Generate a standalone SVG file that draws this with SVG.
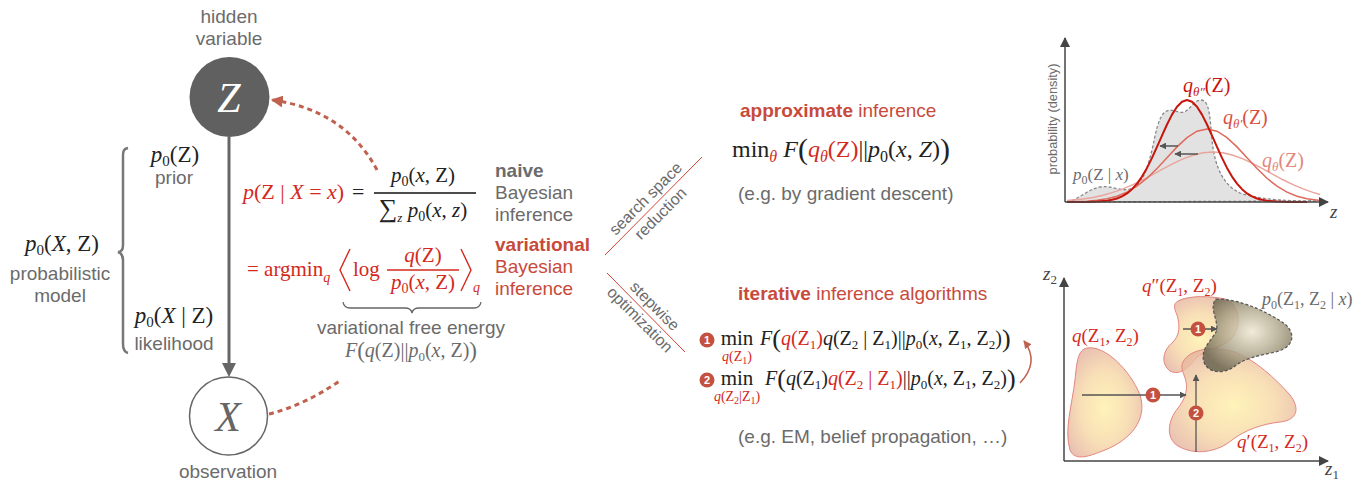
<svg xmlns="http://www.w3.org/2000/svg" width="1362" height="485" viewBox="0 0 1362 485">
<style>
.s{font-family:"Liberation Sans",Arial,sans-serif}
.m{font-family:"Liberation Serif","DejaVu Serif","Times New Roman",serif}
.i{font-style:italic}
.b{font-weight:bold}
.g{fill:#6b6b6b}
.r{fill:#d3291d}
.rl{fill:#c84a3a}
.k{fill:#222}
.lbl{font-size:19px}
.badge{fill:#c4513f}
.bt{font-family:"Liberation Sans",Arial,sans-serif;font-weight:bold;font-size:11px;fill:#fff;text-anchor:middle}
.ax{stroke:#444;stroke-width:1.5;fill:none}
.blob{fill:url(#gy);fill-opacity:0.78;stroke:#e2877f;stroke-width:1}
</style>
<defs>
<marker id="ahr" viewBox="0 0 10 10" refX="9" refY="5" markerWidth="4" markerHeight="4" orient="auto" markerUnits="strokeWidth"><path d="M0,0 L10,5 L0,10 z" fill="#c0604f"/></marker>
<marker id="ahr2" viewBox="0 0 10 10" refX="9" refY="5" markerWidth="8" markerHeight="8" orient="auto" markerUnits="userSpaceOnUse"><path d="M0,0 L10,5 L0,10 z" fill="#c0604f"/></marker>
<marker id="ahg" viewBox="0 0 10 10" refX="9" refY="5" markerWidth="7" markerHeight="7" orient="auto" markerUnits="userSpaceOnUse"><path d="M0,0 L10,5 L0,10 z" fill="#555"/></marker>
<marker id="ahax" viewBox="0 0 10 10" refX="9" refY="5" markerWidth="10" markerHeight="10" orient="auto" markerUnits="userSpaceOnUse"><path d="M0,0 L10,5 L0,10 z" fill="#444"/></marker>
<radialGradient id="gy" cx="0.5" cy="0.55" r="0.6"><stop offset="0" stop-color="#fff0a6"/><stop offset="0.55" stop-color="#f6d6a2"/><stop offset="1" stop-color="#e3ae9c"/></radialGradient>
<radialGradient id="gp" cx="0.55" cy="0.45" r="0.6"><stop offset="0" stop-color="#eee8d2"/><stop offset="0.6" stop-color="#a89f84"/><stop offset="1" stop-color="#6a6450"/></radialGradient>
</defs>

<!-- connectors -->
<g id="connectors">
<line x1="229" y1="137" x2="229" y2="364" stroke="#666" stroke-width="3"/>
<polygon points="229,377 222,363 236,363" fill="#666"/>
<path d="M377,170 Q345,110 272,100" fill="none" stroke="#c0604f" stroke-width="3" stroke-dasharray="5,4" marker-end="url(#ahr)"/>
<path d="M269,414 Q305,405 341,380" fill="none" stroke="#c0604f" stroke-width="3" stroke-dasharray="5,4"/>
<line x1="605" y1="255" x2="702" y2="157" stroke="#d04535" stroke-width="1"/>
<line x1="607" y1="273" x2="685" y2="352" stroke="#d04535" stroke-width="1"/>
<path d="M1020,383 Q1040,362 1024,341" fill="none" stroke="#c0604f" stroke-width="1.5" marker-end="url(#ahr2)"/>
</g>

<!-- nodes -->
<g id="node-Z">
<text x="229" y="23" class="s lbl g" text-anchor="middle">hidden</text>
<text x="229" y="45" class="s lbl g" text-anchor="middle">variable</text>
<circle cx="229.5" cy="97" r="40" fill="#606060"/>
<text x="229" y="112" class="m i" font-size="42" fill="#fff" text-anchor="middle">Z</text>
</g>
<g id="node-X">
<circle cx="228.5" cy="416" r="39" fill="#fff" stroke="#666" stroke-width="1.5"/>
<text x="228" y="431" class="m i" font-size="42" fill="#666" text-anchor="middle">X</text>
<text x="228" y="478" class="s lbl g" text-anchor="middle">observation</text>
</g>

<g id="model">
<path d="M128,148 C123,149 123,152 123,157 L123,245 C123,250 121,252 118,252 C121,253 123,255 123,260 L123,344 C123,349 124,352 128,353" fill="none" stroke="#777" stroke-width="2.5"/>
<text x="62" y="251" class="m k" font-size="23" text-anchor="middle"><tspan class="i">p</tspan><tspan font-size="15" dy="4">0</tspan><tspan dy="-4">(</tspan><tspan class="i">X</tspan>, Z)</text>
<text x="60" y="280" class="s lbl g" text-anchor="middle">probabilistic</text>
<text x="60" y="302" class="s lbl g" text-anchor="middle">model</text>
<text x="175" y="162" class="m k" font-size="23" text-anchor="middle"><tspan class="i">p</tspan><tspan font-size="15" dy="4">0</tspan><tspan dy="-4">(Z)</tspan></text>
<text x="174" y="184" class="s lbl g" text-anchor="middle">prior</text>
<text x="174" y="323" class="m k" font-size="23" text-anchor="middle"><tspan class="i">p</tspan><tspan font-size="15" dy="4">0</tspan><tspan dy="-4">(</tspan><tspan class="i">X</tspan> | Z)</text>
<text x="174" y="350" class="s lbl g" text-anchor="middle">likelihood</text>
</g>

<g id="naive-bayes">
<text x="243" y="199" class="m r" font-size="22"><tspan class="i">p</tspan>(Z | <tspan class="i">X</tspan> = <tspan class="i">x</tspan>)</text>
<text x="352" y="199" class="m k" font-size="22">=</text>
<text x="423" y="182" class="m k" font-size="21" text-anchor="middle"><tspan class="i">p</tspan><tspan font-size="14" dy="4">0</tspan><tspan dy="-4">(</tspan><tspan class="i">x</tspan>, Z)</text>
<line x1="374" y1="193" x2="476" y2="193" stroke="#111" stroke-width="1.4"/>
<text x="423" y="217" class="m k" font-size="21" text-anchor="middle"><tspan font-size="26">∑</tspan><tspan class="i" font-size="13" dy="5">z</tspan><tspan class="i" dy="-5"> p</tspan><tspan font-size="14" dy="4">0</tspan><tspan dy="-4">(</tspan><tspan class="i">x</tspan>, <tspan class="i">z</tspan>)</text>
<text x="495" y="177" class="s lbl b g">naive</text>
<text x="495" y="199" class="s lbl g">Bayesian</text>
<text x="495" y="221" class="s lbl g">inference</text>
</g>

<g id="variational-bayes">
<text x="247" y="276" class="m r" font-size="21">= argmin<tspan class="i" font-size="14" dy="6">q</tspan></text>
<path d="M350,249 L340,270 L350,291" fill="none" stroke="#d3291d" stroke-width="1.4"/>
<text x="353" y="276" class="m r" font-size="21">log</text>
<text x="423" y="262" class="m r" font-size="21" text-anchor="middle"><tspan class="i">q</tspan>(Z)</text>
<line x1="387" y1="270" x2="459" y2="270" stroke="#d3291d" stroke-width="1.4"/>
<text x="423" y="289" class="m r" font-size="21" text-anchor="middle"><tspan class="i">p</tspan><tspan font-size="14" dy="4">0</tspan><tspan dy="-4">(</tspan><tspan class="i">x</tspan>, Z)</text>
<path d="M461,249 L471,270 L461,291" fill="none" stroke="#d3291d" stroke-width="1.4"/>
<text x="473" y="292" class="m r i" font-size="14">q</text>
<path d="M343,302 Q344,308 350,308 L405,308 Q411,308 412,313 Q413,308 419,308 L474,308 Q480,308 481,302" fill="none" stroke="#666" stroke-width="1.3"/>
<text x="411" y="334" class="s lbl g" text-anchor="middle">variational free energy</text>
<text x="411" y="357" class="m g" font-size="20" text-anchor="middle"><tspan class="i">F</tspan><tspan font-size="23" dy="1">(</tspan><tspan class="i" dy="-1">q</tspan>(Z)||<tspan class="i">p</tspan><tspan font-size="13" dy="4">0</tspan><tspan dy="-4">(</tspan><tspan class="i">x</tspan>, Z)<tspan font-size="23" dy="1">)</tspan></text>
<text x="495" y="251" class="s lbl b rl">variational</text>
<text x="495" y="273" class="s lbl rl">Bayesian</text>
<text x="495" y="295" class="s lbl rl">inference</text>
</g>

<g id="branch-labels">
<g transform="translate(653,206) rotate(-45)">
<text x="0" y="-5" class="s g" font-size="16" text-anchor="middle">search space</text>
<text x="0" y="16" class="s g" font-size="16" text-anchor="middle">reduction</text>
</g>
<g transform="translate(646,312) rotate(45)">
<text x="2" y="-5" class="s g" font-size="16" text-anchor="middle">stepwise</text>
<text x="1" y="15" class="s g" font-size="16" text-anchor="middle">optimization</text>
</g>
</g>

<g id="approximate">
<text x="740" y="117" class="s lbl rl"><tspan class="b">approximate</tspan> inference</text>
<text x="732" y="157" class="m k" font-size="24">min<tspan class="i r" font-size="16" dy="5">θ</tspan><tspan class="i" dy="-5"> F</tspan><tspan font-size="30" dy="1.5">(</tspan><tspan class="i r" dy="-1.5">q</tspan><tspan class="i r" font-size="16" dy="5">θ</tspan><tspan class="r" dy="-5">(Z)</tspan>||<tspan class="i">p</tspan><tspan font-size="16" dy="5">0</tspan><tspan dy="-5">(</tspan><tspan class="i">x</tspan>, <tspan class="i">Z</tspan>)<tspan font-size="30" dy="1.5">)</tspan></text>
<text x="738" y="200" class="s lbl g">(e.g. by gradient descent)</text>
</g>

<g id="iterative">
<text x="738" y="300" class="s lbl rl"><tspan class="b">iterative</tspan> inference algorithms</text>
<circle cx="707" cy="340" r="7.5" class="badge"/><text x="707" y="344" class="bt">1</text>
<text x="737" y="345" class="m k" font-size="21" text-anchor="middle">min</text>
<text x="737" y="361" class="m r" font-size="14" text-anchor="middle"><tspan class="i">q</tspan>(Z<tspan font-size="10" dy="3">1</tspan><tspan dy="-3">)</tspan></text>
<text x="760" y="345" class="m k" font-size="20"><tspan class="i">F</tspan><tspan font-size="26" dy="1.5">(</tspan><tspan class="i r" dy="-1.5">q</tspan><tspan class="r">(Z</tspan><tspan class="r" font-size="13" dy="4">1</tspan><tspan class="r" dy="-4">)</tspan><tspan class="i">q</tspan>(Z<tspan font-size="13" dy="4">2</tspan><tspan dy="-4"> | Z</tspan><tspan font-size="13" dy="4">1</tspan><tspan dy="-4">)||</tspan><tspan class="i">p</tspan><tspan font-size="13" dy="4">0</tspan><tspan dy="-4">(</tspan><tspan class="i">x</tspan>, Z<tspan font-size="13" dy="4">1</tspan><tspan dy="-4">, Z</tspan><tspan font-size="13" dy="4">2</tspan><tspan dy="-4">)</tspan><tspan font-size="26" dy="1.5">)</tspan></text>
<circle cx="707" cy="380" r="7.5" class="badge"/><text x="707" y="384" class="bt">2</text>
<text x="737" y="385" class="m k" font-size="21" text-anchor="middle">min</text>
<text x="737" y="401" class="m r" font-size="14" text-anchor="middle"><tspan class="i">q</tspan>(Z<tspan font-size="10" dy="3">2</tspan><tspan dy="-3">|Z</tspan><tspan font-size="10" dy="3">1</tspan><tspan dy="-3">)</tspan></text>
<text x="765" y="385" class="m k" font-size="20"><tspan class="i">F</tspan><tspan font-size="26" dy="1.5">(</tspan><tspan class="i" dy="-1.5">q</tspan>(Z<tspan font-size="13" dy="4">1</tspan><tspan dy="-4">)</tspan><tspan class="i r">q</tspan><tspan class="r">(Z</tspan><tspan class="r" font-size="13" dy="4">2</tspan><tspan class="r" dy="-4"> | Z</tspan><tspan class="r" font-size="13" dy="4">1</tspan><tspan class="r" dy="-4">)</tspan>||<tspan class="i">p</tspan><tspan font-size="13" dy="4">0</tspan><tspan dy="-4">(</tspan><tspan class="i">x</tspan>, Z<tspan font-size="13" dy="4">1</tspan><tspan dy="-4">, Z</tspan><tspan font-size="13" dy="4">2</tspan><tspan dy="-4">)</tspan><tspan font-size="26" dy="1.5">)</tspan></text>
<text x="738" y="443" class="s lbl g">(e.g. EM, belief propagation, …)</text>
</g>

<g id="density-chart">
<path d="M1067,202 C1080,199 1088,189 1100,187 C1112,185 1120,192 1130,189 C1142,186 1147,170 1152,150 C1156,132 1158,118 1165,112 C1172,107 1178,114 1184,112 C1190,110 1194,100 1201,100 C1210,100 1210,120 1212,140 C1215,170 1225,186 1240,193 C1260,200 1290,201 1317,201 Z" fill="#e2e2e2" stroke="#888" stroke-width="1.3" stroke-dasharray="3,2"/>
<polyline fill="none" stroke="#eaa49c" stroke-width="1.5" points="1067,200.5 1083,198.9 1093,197.4 1103,195.2 1113,192.4 1123,188.9 1133,184.6 1143,179.8 1153,174.4 1163,168.9 1173,163.6 1183,158.9 1193,155.2 1203,152.8 1213,152 1223,152.8 1233,155.2 1243,158.9 1253,163.6 1263,168.9 1273,174.4 1283,179.8 1293,184.6 1303,188.9 1313,192.4 1320,194.5"/>
<polyline fill="none" stroke="#df6a5c" stroke-width="1.5" points="1067,201.8 1087,201.2 1097,200.3 1107,198.8 1117,196.2 1127,192.1 1137,186.2 1147,178.3 1157,168.6 1167,157.7 1177,146.9 1187,137.6 1197,131.2 1207,129 1217,131.2 1227,137.6 1237,146.9 1247,157.7 1257,168.6 1267,178.3 1277,186.2 1287,192.1 1297,196.2 1307,198.8 1320,200.5"/>
<polyline fill="none" stroke="#c8150c" stroke-width="2" stroke-linejoin="round" points="1067,202 1087,201.9 1097,201.6 1107,200.7 1112,199.8 1117,198.5 1122,196.4 1127,193.4 1132,189.2 1137,183.6 1142,176.6 1147,167.9 1152,157.9 1157,146.9 1162,135.6 1167,124.5 1172,114.6 1177,106.7 1182,101.7 1187,100 1192,101.7 1197,106.7 1202,114.6 1207,124.5 1212,135.6 1217,146.9 1222,157.9 1227,167.9 1232,176.6 1237,183.6 1242,189.2 1247,193.4 1252,196.4 1257,198.5 1262,199.8 1267,200.7 1277,201.6 1287,201.9 1307,202"/>
<line x1="1178" y1="146" x2="1160" y2="146" stroke="#555" stroke-width="1.5" marker-end="url(#ahg)"/>
<line x1="1198" y1="154" x2="1175" y2="154" stroke="#555" stroke-width="1.5" marker-end="url(#ahg)"/>
<line x1="1065" y1="202" x2="1065" y2="38" class="ax" marker-end="url(#ahax)"/>
<line x1="1065" y1="202" x2="1328" y2="202" class="ax" marker-end="url(#ahax)"/>
<text x="1330" y="218" class="m i" font-size="19" fill="#444">z</text>
<g transform="translate(1057,119) rotate(-90)"><text x="0" y="0" class="s g" font-size="12.8" text-anchor="middle">probability (density)</text></g>
<text x="1073" y="180" class="m g" font-size="17"><tspan class="i">p</tspan><tspan font-size="12" dy="4">0</tspan><tspan dy="-4">(Z | </tspan><tspan class="i">x</tspan>)</text>
<text x="1183" y="92" class="m" font-size="20" fill="#c8150c"><tspan class="i">q</tspan><tspan class="i" font-size="13" dy="4">θ″</tspan><tspan dy="-4">(Z)</tspan></text>
<text x="1223" y="124" class="m" font-size="20" fill="#d9503f"><tspan class="i">q</tspan><tspan class="i" font-size="13" dy="4">θ′</tspan><tspan dy="-4">(Z)</tspan></text>
<text x="1262" y="167" class="m" font-size="20" fill="#e4877c"><tspan class="i">q</tspan><tspan class="i" font-size="13" dy="4">θ</tspan><tspan dy="-4">(Z)</tspan></text>
</g>

<g id="blob-chart">
<path class="blob" d="M1087,348 C1105,345 1130,370 1140,395 C1148,420 1130,440 1105,450 C1090,456 1075,462 1070,450 C1064,430 1072,405 1075,380 C1077,360 1078,350 1087,348 Z"/>
<path class="blob" d="M1178,301 C1190,295 1210,296 1225,299 C1240,304 1242,325 1232,338 C1222,348 1205,350 1196,358 C1188,368 1180,376 1170,371 C1160,363 1163,350 1173,342 C1180,335 1180,325 1177,315 C1174,308 1173,304 1178,301 Z"/>
<path class="blob" d="M1183,362 C1190,348 1215,346 1235,352 C1255,360 1275,378 1290,395 C1300,408 1298,420 1280,422 C1262,424 1245,430 1232,440 C1218,452 1195,456 1178,446 C1165,438 1168,420 1178,408 C1188,395 1188,385 1184,375 C1182,370 1181,366 1183,362 Z"/>
<path d="M1216,299 C1240,299 1266,311 1285,324 C1297,335 1293,348 1275,352 C1258,356 1245,358 1235,366 C1225,374 1208,374 1204,362 C1200,350 1210,342 1216,332 C1220,322 1208,308 1216,299 Z" fill="url(#gp)" fill-opacity="0.85" stroke="#555" stroke-width="1.2" stroke-dasharray="3,2"/>
<line x1="1082" y1="395" x2="1186" y2="395" stroke="#555" stroke-width="1.3" marker-end="url(#ahg)"/>
<line x1="1196" y1="452" x2="1196" y2="375" stroke="#555" stroke-width="1.3" marker-end="url(#ahg)"/>
<line x1="1183" y1="329" x2="1217" y2="329" stroke="#555" stroke-width="1.3" marker-end="url(#ahg)"/>
<circle cx="1153" cy="395" r="7.5" class="badge"/><text x="1153" y="399" class="bt">1</text>
<circle cx="1196" cy="413" r="7.5" class="badge"/><text x="1196" y="417" class="bt">2</text>
<circle cx="1198" cy="329" r="7.5" class="badge"/><text x="1198" y="333" class="bt">1</text>
<line x1="1064" y1="461" x2="1064" y2="278" class="ax" marker-end="url(#ahax)"/>
<line x1="1064" y1="461" x2="1328" y2="461" class="ax" marker-end="url(#ahax)"/>
<text x="1043" y="280" class="m" font-size="19" fill="#444"><tspan class="i">z</tspan><tspan font-size="13" dy="4">2</tspan></text>
<text x="1325" y="475" class="m" font-size="19" fill="#444"><tspan class="i">z</tspan><tspan font-size="13" dy="4">1</tspan></text>
<text x="1072" y="342" class="m r" font-size="19"><tspan class="i">q</tspan>(Z<tspan font-size="12" dy="4">1</tspan><tspan dy="-4">, Z</tspan><tspan font-size="12" dy="4">2</tspan><tspan dy="-4">)</tspan></text>
<text x="1142" y="292" class="m r" font-size="19"><tspan class="i">q</tspan>″(Z<tspan font-size="12" dy="4">1</tspan><tspan dy="-4">, Z</tspan><tspan font-size="12" dy="4">2</tspan><tspan dy="-4">)</tspan></text>
<text x="1237" y="448" class="m r" font-size="19"><tspan class="i">q</tspan>′(Z<tspan font-size="12" dy="4">1</tspan><tspan dy="-4">, Z</tspan><tspan font-size="12" dy="4">2</tspan><tspan dy="-4">)</tspan></text>
<text x="1262" y="305" class="m g" font-size="18"><tspan class="i">p</tspan><tspan font-size="12" dy="4">0</tspan><tspan dy="-4">(Z</tspan><tspan font-size="12" dy="4">1</tspan><tspan dy="-4">, Z</tspan><tspan font-size="12" dy="4">2</tspan><tspan dy="-4"> | </tspan><tspan class="i">x</tspan>)</text>
</g>
</svg>
